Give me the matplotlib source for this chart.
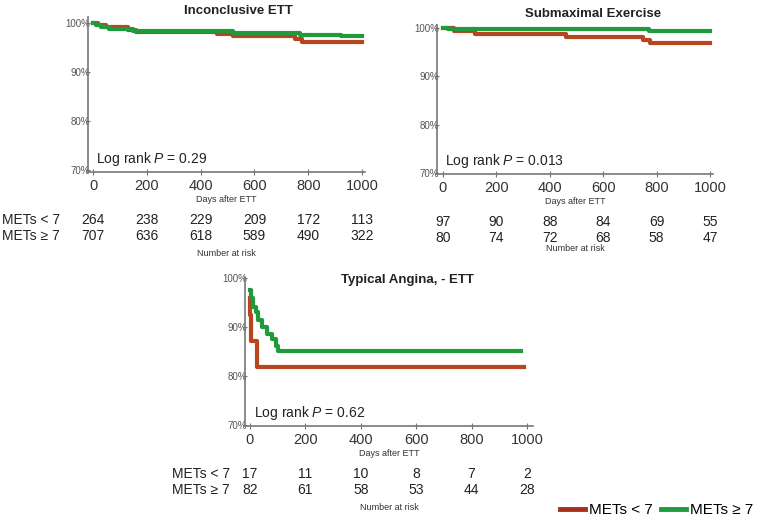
import matplotlib
matplotlib.use("Agg")
import matplotlib.pyplot as plt
from matplotlib.lines import Line2D

plt.rcParams['font.family'] = ['Liberation Sans', 'DejaVu Sans']
plt.rcParams['mathtext.fontset'] = 'custom'
plt.rcParams['mathtext.it'] = 'Liberation Sans:italic'

RED = '#b5461f'
GREEN = '#1f9a3c'
GRAY = '#555555'

# Inconclusive ETT
inc_low_t = [0, 20, 50, 130, 160, 460, 520, 750, 775, 1000]
inc_low_s = [100, 99.5, 99.1, 98.6, 98.2, 97.7, 97.3, 96.8, 96.2, 96.2]
inc_high_t = [0, 10, 30, 60, 150, 520, 770, 920, 1000]
inc_high_s = [100, 99.5, 99.1, 98.7, 98.3, 97.9, 97.5, 97.3, 97.3]
inc_risk_low = [264, 238, 229, 209, 172, 113]
inc_risk_high = [707, 636, 618, 589, 490, 322]
inc_p = "0.29"

# Submaximal Exercise
sub_low_t = [0, 40, 120, 460, 750, 775, 1000]
sub_low_s = [100, 99.3, 98.8, 98.1, 97.6, 96.8, 96.8]
sub_high_t = [0, 20, 770, 1000]
sub_high_s = [100, 99.7, 99.3, 99.3]
sub_risk_low = [97, 90, 88, 84, 69, 55]
sub_risk_high = [80, 74, 72, 68, 58, 47]
sub_p = "0.013"

# Typical Angina, - ETT
typ_low_t = [0, 1, 5, 25, 990]
typ_low_s = [96, 92.5, 87.2, 81.8, 81.8]
typ_high_t = [0, 5, 10, 20, 30, 45, 60, 80, 95, 100, 980]
typ_high_s = [97.6, 96.0, 94.0, 93.0, 91.5, 90.0, 88.6, 87.5, 86.2, 85.1, 85.1]
typ_risk_low = [17, 11, 10, 8, 7, 2]
typ_risk_high = [82, 61, 58, 53, 44, 28]
typ_p = "0.62"

x_ticks = [0, 200, 400, 600, 800, 1000]
y_ticks = [70, 80, 90, 100]
y_labels = ['70%', '80%', '90%', '100%']
group_labels = ['METs < 7', 'METs \u2265 7']

W, H = 764, 527
fig = plt.figure(figsize=(W / 100, H / 100), dpi=100)


def panel(rect, xlim, ylim, title, title_xy, low, high, risk_low, risk_high, p,
          row_label_x=None, risk_dy=(48, 64, 81)):
    l, t, r, b = rect
    ax = fig.add_axes([l / W, 1 - b / H, (r - l) / W, (b - t) / H])
    ax.step(low[0], low[1], where='post', color=RED, lw=3)
    ax.step(high[0], high[1], where='post', color=GREEN, lw=3)
    ax.set_xlim(*xlim)
    ax.set_ylim(*ylim)
    for s in ['top', 'right']:
        ax.spines[s].set_visible(False)
    for s in ['left', 'bottom']:
        ax.spines[s].set_color('#777777')
        ax.spines[s].set_linewidth(1.2)
    ax.set_xticks(x_ticks)
    ax.set_xticklabels([str(v) for v in x_ticks], fontsize=10.5, color='#333333')
    ax.set_yticks(y_ticks)
    ax.set_yticklabels(y_labels, fontsize=7, color=GRAY)
    ax.tick_params(axis='x', direction='inout', length=4, color='#777777', pad=3)
    ax.tick_params(axis='y', direction='inout', length=3, color='#777777', pad=-3)
    ax.text(0.03, 0.06, "Log rank $P$ = " + p, transform=ax.transAxes,
            fontsize=10, color='#222222')
    fig.text(title_xy[0] / W, 1 - title_xy[1] / H, title, fontsize=9.5, weight='bold',
             ha='center', va='center', color='#222222')
    # x label and number at risk table
    xmid = (l + r) / 2
    fig.text(xmid / W, 1 - (b + 28) / H, 'Days after ETT', fontsize=6.5,
             ha='center', va='center', color='#333333')
    for k, row in enumerate([risk_low, risk_high]):
        ypos = 1 - (b + risk_dy[0] + k * 16) / H
        for xv, n in zip(x_ticks, row):
            xd = ax.transData.transform((xv, 0))[0] / fig.dpi / fig.get_figwidth()
            fig.text(xd, ypos, str(n), fontsize=10, ha='center', va='center',
                     color='#222222')
        if row_label_x is not None:
            fig.text(row_label_x / W, ypos, group_labels[k], fontsize=10,
                     ha='left', va='center', color='#222222')
    fig.text(xmid / W, 1 - (b + risk_dy[2]) / H, 'Number at risk', fontsize=6.5,
             ha='center', va='center', color='#333333')
    return ax


panel((88, 17, 365, 172), (-18.6, 1011), (69.6, 101.2), 'Inconclusive ETT', (238, 11),
      (inc_low_t, inc_low_s), (inc_high_t, inc_high_s),
      inc_risk_low, inc_risk_high, inc_p, row_label_x=2)
panel((437, 25, 713, 174), (-22, 1011), (69.8, 100.6), 'Submaximal Exercise', (593, 14),
      (sub_low_t, sub_low_s), (sub_high_t, sub_high_s),
      sub_risk_low, sub_risk_high, sub_p, risk_dy=(48, 64, 75))
panel((245, 277, 533, 426), (-18, 1022), (69.8, 100.2), 'Typical Angina, - ETT', (407, 280),
      (typ_low_t, typ_low_s), (typ_high_t, typ_high_s),
      typ_risk_low, typ_risk_high, typ_p, row_label_x=172)

handles = [Line2D([], [], color='#a8301f', lw=3.5), Line2D([], [], color=GREEN, lw=3.5)]
fig.legend(handles, group_labels, loc='center right',
           bbox_to_anchor=(753 / W, 1 - 510 / H), ncol=2, frameon=False,
           borderpad=0, borderaxespad=0,
           fontsize=11, handlelength=1.6, handletextpad=0.25, columnspacing=0.6)

fig.savefig('out.png', dpi=100)
